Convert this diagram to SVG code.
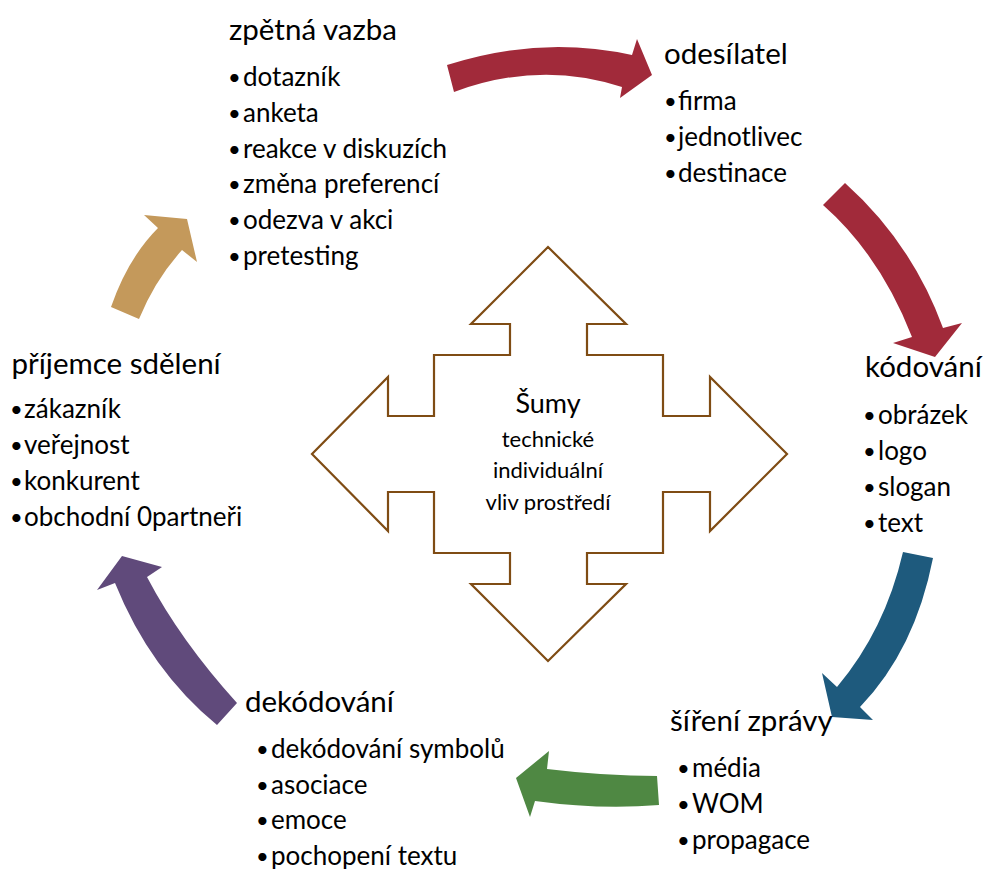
<svg xmlns="http://www.w3.org/2000/svg" width="984" height="869" viewBox="0 0 984 869">
<style>
text{font-family:Lato,"Liberation Sans",sans-serif;fill:#000}
.h{font-size:29.5px}
.i{font-size:26px}
.b{font-size:22px}
.c1{font-size:27px}
.c2{font-size:22px}
.cross{fill:#fff;stroke:#7f4c14;stroke-width:2.2;stroke-linejoin:miter}
</style>
<rect width="984" height="869" fill="#fff"/>
<g id="connectors">
<path id="a1" fill="#a12a3a" d="M447,65 Q540,35 632,55 L637,39 L652,75 L620,98 L622,87 Q540,60 454,92 Z"/>
<path id="a2" fill="#a12a3a" d="M845,183 Q912,243 943,328 L962,323 L935,357 L893,343 L912,337 Q880,255 823,205 Z"/>
<path id="a3" fill="#1e5a7d" d="M903,552 L933,558 Q915,650 860,707 L873,720 L832,717 L822,673 L837,687 Q885,630 903,552 Z"/>
<path id="a4" fill="#4f8843" d="M657,776 Q605,776 547,769 L549,751 L516,778 L530,817 L535,801 Q600,810 659,805 Z"/>
<path id="a5" fill="#604a7b" d="M237,703 Q180,640 147,577 L162,567 L122,556 L97,590 L115,583 Q150,670 217,725 Z"/>
<path id="a6" fill="#c4995b" d="M111,307 Q128,258 158,228 L144,215 L187,219 L197,262 L182,250 Q155,280 139,319 Z"/>
</g>
<g id="noise">
<polygon class="cross" points="548,247 626,324 587,324 587,355 663,355 663,416 710,416 710,377 787,454 710,531 710,492 663,492 663,553 587,553 587,584 626,584 548,661 471,584 510,584 510,553 434,553 434,492 388,492 388,531 312,454 388,377 388,416 434,416 434,355 510,355 510,324 471,324"/>
<text class="c1" x="548" y="413" text-anchor="middle">Šumy</text>
<text class="c2" x="548" y="447" text-anchor="middle">technické</text>
<text class="c2" x="548" y="477.5" text-anchor="middle">individuální</text>
<text class="c2" x="548" y="509.5" text-anchor="middle">vliv prostředí</text>
</g>
<g id="zpetna-vazba">
<text class="h" x="229" y="39.5">zpětná vazba</text>
<text class="i"><tspan class="b" x="228" y="85">•</tspan><tspan x="243" y="86">dotazník</tspan></text>
<text class="i"><tspan class="b" x="228" y="120.8">•</tspan><tspan x="243" y="121.8">anketa</tspan></text>
<text class="i"><tspan class="b" x="228" y="156.6">•</tspan><tspan x="243" y="157.6">reakce v diskuzích</tspan></text>
<text class="i"><tspan class="b" x="228" y="192.4">•</tspan><tspan x="243" y="193.4">změna preferencí</tspan></text>
<text class="i"><tspan class="b" x="228" y="228.2">•</tspan><tspan x="243" y="229.2">odezva v akci</tspan></text>
<text class="i"><tspan class="b" x="228" y="264">•</tspan><tspan x="243" y="265">pretesting</tspan></text>
</g>
<g id="odesilatel">
<text class="h" x="664" y="64">odesílatel</text>
<text class="i"><tspan class="b" x="664" y="109">•</tspan><tspan x="678" y="110">firma</tspan></text>
<text class="i"><tspan class="b" x="664" y="145">•</tspan><tspan x="678" y="146">jednotlivec</tspan></text>
<text class="i"><tspan class="b" x="664" y="181">•</tspan><tspan x="678" y="182">destinace</tspan></text>
</g>
<g id="kodovani">
<text class="h" x="865" y="377">kódování</text>
<text class="i"><tspan class="b" x="863" y="422.5">•</tspan><tspan x="878" y="423.5">obrázek</tspan></text>
<text class="i"><tspan class="b" x="863" y="458.5">•</tspan><tspan x="878" y="459.5">logo</tspan></text>
<text class="i"><tspan class="b" x="863" y="494.8">•</tspan><tspan x="878" y="495.8">slogan</tspan></text>
<text class="i"><tspan class="b" x="863" y="531">•</tspan><tspan x="878" y="532">text</tspan></text>
</g>
<g id="sireni-zpravy">
<text class="h" x="670" y="731">šíření zprávy</text>
<text class="i"><tspan class="b" x="677" y="776">•</tspan><tspan x="692" y="777">média</tspan></text>
<text class="i"><tspan class="b" x="677" y="811.8">•</tspan><tspan x="692" y="812.8">WOM</tspan></text>
<text class="i"><tspan class="b" x="677" y="847.6">•</tspan><tspan x="692" y="848.6">propagace</tspan></text>
</g>
<g id="dekodovani">
<text class="h" x="245" y="711.5">dekódování</text>
<text class="i"><tspan class="b" x="256" y="757">•</tspan><tspan x="271" y="758">dekódování symbolů</tspan></text>
<text class="i"><tspan class="b" x="256" y="792.6">•</tspan><tspan x="271" y="793.6">asociace</tspan></text>
<text class="i"><tspan class="b" x="256" y="828.2">•</tspan><tspan x="271" y="829.2">emoce</tspan></text>
<text class="i"><tspan class="b" x="256" y="863.8">•</tspan><tspan x="271" y="864.8">pochopení textu</tspan></text>
</g>
<g id="prijemce-sdeleni">
<text class="h" x="11.5" y="374">příjemce sdělení</text>
<text class="i"><tspan class="b" x="10" y="417.3">•</tspan><tspan x="24" y="418.3">zákazník</tspan></text>
<text class="i"><tspan class="b" x="10" y="453.3">•</tspan><tspan x="24" y="454.3">veřejnost</tspan></text>
<text class="i"><tspan class="b" x="10" y="489.3">•</tspan><tspan x="24" y="490.3">konkurent</tspan></text>
<text class="i"><tspan class="b" x="10" y="525.3">•</tspan><tspan x="24" y="526.3">obchodní 0partneři</tspan></text>
</g>
</svg>
